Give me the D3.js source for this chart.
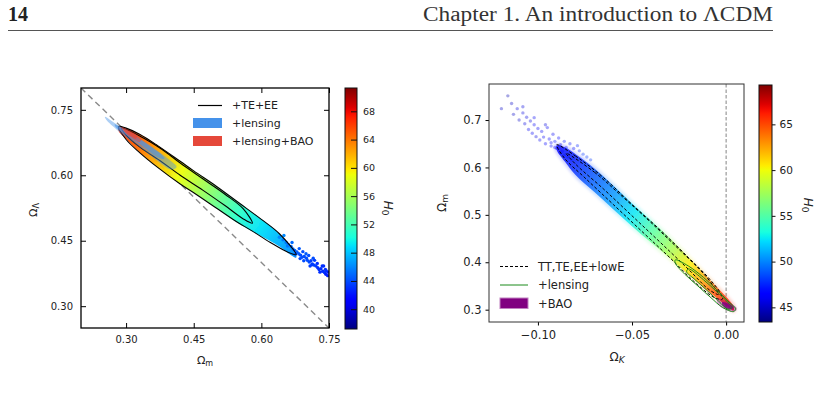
<!DOCTYPE html>
<html>
<head>
<meta charset="utf-8">
<script src="https://cdn.jsdelivr.net/npm/d3@7"></script>
<style>
  body { margin: 0; background: #fff; }
  svg { display: block; font-family: "DejaVu Sans", sans-serif; }
</style>
</head>
<body>
<script>
/* ---------- data ---------- */

// left panel: Omega_m vs Omega_Lambda
const leftTicks = [0.30, 0.45, 0.60, 0.75];
const leftCbTicks = [40, 44, 48, 52, 56, 60, 64, 68];

// colour-coded samples, as slices along Omega_m: upper / lower edge and mean H0
const cloudL_m  = [0.283, 0.30, 0.33, 0.37, 0.42, 0.45, 0.50, 0.55, 0.60, 0.64, 0.677];
const cloudL_up = [0.712, 0.708, 0.694, 0.668, 0.632, 0.610, 0.575, 0.537, 0.499, 0.466, 0.419];
const cloudL_lo = [0.702, 0.683, 0.652, 0.618, 0.580, 0.560, 0.525, 0.489, 0.460, 0.437, 0.411];
const cloudL_h0 = [67, 66, 64.5, 62, 59, 57, 54, 51, 49, 47.5, 46];

// stray samples in the tail
const tailL_m = [0.640, 0.648, 0.655, 0.660, 0.666, 0.670, 0.674, 0.679, 0.683, 0.687, 0.690, 0.686, 0.695, 0.699,
                 0.702, 0.706, 0.710, 0.713, 0.717, 0.721, 0.725, 0.728, 0.732, 0.736, 0.740, 0.743, 0.747, 0.735, 0.744, 0.715,
                 0.650, 0.658, 0.668, 0.676, 0.684, 0.692, 0.700, 0.705, 0.712, 0.718, 0.724, 0.730, 0.738, 0.742, 0.748, 0.694, 0.708];
const tailL_l = [0.458, 0.452, 0.446, 0.441, 0.437, 0.431, 0.428, 0.424, 0.420, 0.417, 0.412, 0.409, 0.414, 0.420,
                 0.405, 0.401, 0.404, 0.397, 0.394, 0.392, 0.388, 0.384, 0.386, 0.380, 0.377, 0.373, 0.370, 0.392, 0.381, 0.410,
                 0.462, 0.438, 0.446, 0.420, 0.432, 0.425, 0.410, 0.416, 0.395, 0.405, 0.398, 0.378, 0.392, 0.384, 0.378, 0.404, 0.392];
const tailL_h0 = [46, 45.5, 45.5, 45, 45, 45, 44.5, 44.5, 44.5, 44, 44, 44, 44, 44.5,
                  44, 44, 43.5, 43.5, 43.5, 43.5, 43, 43, 43, 43, 43, 42.5, 42.5, 43, 43, 44,
                  46, 45.5, 45, 44.5, 44.5, 44, 44, 44, 43.5, 43.5, 43, 43, 43, 43, 42.5, 44, 43.5];

// +TE+EE contours (95% and 68%)
const teOuter = [[0.283, 0.712], [0.30, 0.708], [0.33, 0.694], [0.37, 0.668], [0.42, 0.632], [0.45, 0.610], [0.50, 0.575],
                 [0.55, 0.537], [0.60, 0.499], [0.64, 0.466], [0.677, 0.418], [0.66, 0.423], [0.62, 0.446], [0.58, 0.472],
                 [0.54, 0.497], [0.50, 0.525], [0.45, 0.560], [0.42, 0.580], [0.37, 0.618], [0.33, 0.652], [0.30, 0.682]];
const teInner = [[0.29, 0.708], [0.33, 0.690], [0.38, 0.659], [0.42, 0.628], [0.47, 0.592], [0.52, 0.556], [0.56, 0.523],
                 [0.58, 0.490], [0.56, 0.500], [0.52, 0.530], [0.47, 0.566], [0.42, 0.600], [0.38, 0.630], [0.33, 0.665], [0.30, 0.692]];

// +lensing (blue) and +lensing+BAO (red)
const lensOuter = [[0.253, 0.734], [0.28, 0.716], [0.32, 0.692], [0.36, 0.663], [0.40, 0.632], [0.412, 0.619],
                   [0.40, 0.613], [0.36, 0.641], [0.32, 0.672], [0.28, 0.704], [0.256, 0.727]];
const lensInner = [[0.275, 0.717], [0.30, 0.702], [0.34, 0.676], [0.38, 0.646], [0.385, 0.638],
                   [0.37, 0.641], [0.33, 0.672], [0.29, 0.700], [0.276, 0.712]];
const baoOuter = [[0.290, 0.709], [0.305, 0.704], [0.320, 0.695], [0.334, 0.683], [0.330, 0.676], [0.314, 0.685], [0.298, 0.697]];
const baoInner = [[0.296, 0.705], [0.310, 0.699], [0.324, 0.690], [0.322, 0.684], [0.308, 0.692], [0.298, 0.700]];

const leftLegend = ["+TE+EE", "+lensing", "+lensing+BAO"];

// right panel: Omega_K vs Omega_m
const rightXTicks = [-0.10, -0.05, 0.00];
const rightYTicks = [0.3, 0.4, 0.5, 0.6, 0.7];
const rightCbTicks = [45, 50, 55, 60, 65];

const cloudR_k  = [-0.090, -0.085, -0.080, -0.070, -0.060, -0.050, -0.040, -0.030, -0.020, -0.012, -0.006, 0.000, 0.004];
const cloudR_up = [0.647, 0.641, 0.628, 0.598, 0.562, 0.524, 0.488, 0.451, 0.410, 0.377, 0.352, 0.327, 0.306];
const cloudR_lo = [0.637, 0.609, 0.584, 0.548, 0.512, 0.476, 0.442, 0.409, 0.374, 0.347, 0.328, 0.309, 0.298];
const cloudR_h0 = [46.5, 47, 47.5, 49, 50.5, 52.5, 55, 57.5, 60.5, 62.5, 64.5, 66, 67];

const sparseR_k = [-0.1194, -0.116, -0.114, -0.113, -0.111, -0.110, -0.108, -0.107, -0.106, -0.105, -0.104, -0.103,
                   -0.102, -0.101, -0.100, -0.099, -0.098, -0.097, -0.096, -0.095, -0.094, -0.093, -0.092, -0.091,
                   -0.090, -0.089, -0.088, -0.087, -0.086, -0.085, -0.083, -0.081, -0.079, -0.108, -0.102, -0.096,
                   -0.088, -0.086, -0.084, -0.082, -0.078, -0.076, -0.074, -0.072, -0.091, -0.093];
const sparseR_m = [0.724, 0.751, 0.735, 0.712, 0.724, 0.700, 0.715, 0.692, 0.706, 0.680, 0.698, 0.672,
                   0.690, 0.665, 0.682, 0.658, 0.676, 0.664, 0.650, 0.684, 0.660, 0.645, 0.670, 0.655,
                   0.640, 0.662, 0.648, 0.634, 0.655, 0.642, 0.650, 0.640, 0.646, 0.728, 0.705, 0.690,
                   0.630, 0.626, 0.622, 0.616, 0.635, 0.628, 0.622, 0.616, 0.642, 0.652];
const sparseR_h0 = [45, 44.5, 45, 45, 45.5, 45, 45.5, 45.5, 45.5, 46, 45.5, 46,
                    46, 45.5, 46, 46, 46, 46, 46.5, 46, 46.5, 46.5, 46, 47,
                    46.5, 46.5, 46, 47, 47, 47, 47, 47, 47.5, 45.5, 46, 45.5,
                    47, 47, 47, 47.5, 47.5, 48, 48, 48, 46.5, 46.5];

// TT,TE,EE+lowE dashed contours
const ttOuter = [[-0.090, 0.648], [-0.080, 0.624], [-0.065, 0.578], [-0.050, 0.522], [-0.035, 0.468], [-0.020, 0.410],
                 [-0.010, 0.370], [-0.003, 0.335], [-0.002, 0.322], [-0.006, 0.325], [-0.015, 0.352], [-0.030, 0.410],
                 [-0.045, 0.466], [-0.060, 0.522], [-0.075, 0.578], [-0.086, 0.620]];
const ttInner = [[-0.085, 0.630], [-0.070, 0.590], [-0.055, 0.538], [-0.040, 0.484], [-0.025, 0.427], [-0.012, 0.376],
                 [-0.005, 0.340], [-0.004, 0.332], [-0.009, 0.342], [-0.020, 0.385], [-0.035, 0.442], [-0.050, 0.498],
                 [-0.065, 0.554], [-0.080, 0.607]];
// +lensing (green)
const lensROuter = [[-0.027, 0.405], [-0.020, 0.392], [-0.012, 0.368], [-0.005, 0.342], [0.001, 0.318], [0.005, 0.302],
                    [0.004, 0.296], [-0.002, 0.305], [-0.008, 0.325], [-0.015, 0.350], [-0.022, 0.375], [-0.027, 0.398]];
const lensRInner = [[-0.020, 0.386], [-0.012, 0.363], [-0.005, 0.338], [0.001, 0.315], [0.003, 0.304],
                    [0.001, 0.301], [-0.004, 0.318], [-0.010, 0.340], [-0.017, 0.365], [-0.021, 0.380]];
// +BAO (purple)
const baoROuter = [[-0.0045, 0.323], [-0.001, 0.320], [0.003, 0.312], [0.0058, 0.302], [0.0045, 0.296],
                   [0.001, 0.298], [-0.003, 0.306], [-0.005, 0.317]];
const baoRInner = [[-0.002, 0.316], [0.001, 0.313], [0.004, 0.305], [0.003, 0.301], [0.000, 0.303], [-0.002, 0.310]];

const rightLegend = ["TT,TE,EE+lowE", "+lensing", "+BAO"];

/* ---------- jet colour map ---------- */
const jetR = d3.scaleLinear([0, 0.35, 0.66, 0.89, 1], [0, 0, 1, 1, 0.5]).clamp(true);
const jetG = d3.scaleLinear([0, 0.125, 0.375, 0.64, 0.91, 1], [0, 0, 1, 1, 0, 0]).clamp(true);
const jetB = d3.scaleLinear([0, 0.11, 0.34, 0.65, 1], [0.5, 1, 1, 0, 0]).clamp(true);
const jet = t => d3.rgb(jetR(t) * 255, jetG(t) * 255, jetB(t) * 255).formatHex();

/* ---------- svg ---------- */
const svg = d3.select("body").append("svg").attr("width", 821).attr("height", 412);
const defs = svg.append("defs");

defs.append("filter").attr("id", "soft").append("feGaussianBlur").attr("stdDeviation", 0.6);
defs.append("filter").attr("id", "halo").append("feGaussianBlur").attr("stdDeviation", 1.5);

// page header
svg.append("text").attr("x", 8).attr("y", 21)
  .style("font-family", "'Liberation Serif', serif").style("font-weight", "bold").style("font-size", "20px")
  .style("fill", "#222").text("14");
svg.append("text").attr("x", 773).attr("y", 21).attr("text-anchor", "end")
  .attr("textLength", 350).attr("lengthAdjust", "spacingAndGlyphs")
  .style("font-family", "'Liberation Serif', serif").style("font-size", "20px")
  .style("fill", "#333").text("Chapter 1. An introduction to ΛCDM");
svg.append("line").attr("x1", 8).attr("x2", 773).attr("y1", 30.5).attr("y2", 30.5)
  .attr("stroke", "#555").attr("stroke-width", 1.2);
// caption text that starts just below the bottom edge
svg.append("text").attr("x", 615).attr("y", 428).attr("text-anchor", "middle")
  .style("font-family", "'Liberation Serif', serif").style("font-size", "20px").text("[?]");

const closed = d3.line().curve(d3.curveCatmullRomClosed.alpha(0.5));

function bandGradient(id, pts, h0, norm) {
  const p0 = pts[0], p1 = pts[pts.length - 1];
  const dx = p1[0] - p0[0], dy = p1[1] - p0[1], L2 = dx * dx + dy * dy;
  const grad = defs.append("linearGradient").attr("id", id).attr("gradientUnits", "userSpaceOnUse")
    .attr("x1", p0[0]).attr("y1", p0[1]).attr("x2", p1[0]).attr("y2", p1[1]);
  pts.forEach((p, i) => {
    const off = ((p[0] - p0[0]) * dx + (p[1] - p0[1]) * dy) / L2;
    grad.append("stop").attr("offset", Math.max(0, Math.min(1, off))).attr("stop-color", jet(norm(h0[i])));
  });
}

function colorbar(id, x0, w, cScale, ticks, inside) {
  const grad = defs.append("linearGradient").attr("id", id).attr("x1", 0).attr("y1", 1).attr("x2", 0).attr("y2", 0);
  d3.range(0, 1.0001, 0.02).forEach(t => grad.append("stop").attr("offset", t).attr("stop-color", jet(t)));
  const [yb, yt] = cScale.range();
  svg.append("rect").attr("x", x0).attr("y", yt).attr("width", w).attr("height", yb - yt)
    .attr("fill", `url(#${id})`).attr("stroke", "#111").attr("stroke-width", 1);
  const ax = svg.append("g").attr("transform", `translate(${x0 + w},0)`)
    .call(d3.axisRight(cScale).tickValues(ticks).tickFormat(d3.format("d"))
      .tickSizeInner(inside ? -6 : 3.5).tickSizeOuter(0).tickPadding(inside ? 6 : 4));
  ax.select(".domain").remove();
  ax.selectAll("line").attr("stroke", "#111");
  ax.selectAll("text").style("font-family", "'DejaVu Sans', sans-serif").style("font-size", inside ? "9.5px" : "10.5px").style("fill", "#222");
  return ax;
}

function styleAx(ax, fs) {
  ax.select(".domain").remove();
  ax.selectAll("line").attr("stroke", "#000");
  ax.selectAll("text").style("font-family", "'DejaVu Sans', sans-serif").style("font-size", fs).style("fill", "#222");
}

/* ================= left panel ================= */
const xL = d3.scaleLinear([0.2, 0.75], [81, 329]);
const yL = d3.scaleLinear([0.25, 0.80], [328, 88]);
const cL = d3.scaleLinear([37.2, 71.3], [329, 88]);
const normL = d3.scaleLinear([37.2, 71.3], [0, 1]);

defs.append("clipPath").attr("id", "clipL").append("rect").attr("x", 81).attr("y", 88).attr("width", 248).attr("height", 240);
const gL = svg.append("g").attr("clip-path", "url(#clipL)");

// flat universe line
gL.append("line").attr("x1", xL(0.2)).attr("y1", yL(0.8)).attr("x2", xL(0.75)).attr("y2", yL(0.25))
  .attr("stroke", "#8a8a8a").attr("stroke-width", 1.4).attr("stroke-dasharray", "6,4");

const cenL = cloudL_m.map((m, i) => [xL(m), yL((cloudL_up[i] + cloudL_lo[i]) / 2)]);
bandGradient("gradL", cenL, cloudL_h0, normL);
const bandL = cloudL_m.map((m, i) => [xL(m), yL(cloudL_up[i])])
  .concat(cloudL_m.map((m, i) => [xL(m), yL(cloudL_lo[i])]).reverse());
gL.append("path").attr("d", closed(bandL)).attr("fill", "url(#gradL)").attr("opacity", 0.95).attr("filter", "url(#soft)");

gL.selectAll(".tail").data(tailL_m).join("circle").attr("class", "tail")
  .attr("cx", d => xL(d)).attr("cy", (d, i) => yL(tailL_l[i])).attr("r", 1.7)
  .attr("fill", (d, i) => jet(normL(tailL_h0[i])));

[teOuter, teInner].forEach(c => gL.append("path").attr("d", closed(c.map(p => [xL(p[0]), yL(p[1])])))
  .attr("fill", "none").attr("stroke", "#000").attr("stroke-width", 1.1));

gL.append("path").attr("d", closed(lensOuter.map(p => [xL(p[0]), yL(p[1])]))).attr("fill", "#4a94e8").attr("opacity", 0.45);
gL.append("path").attr("d", closed(lensInner.map(p => [xL(p[0]), yL(p[1])]))).attr("fill", "#4a94e8").attr("opacity", 0.6);
gL.append("path").attr("d", closed(baoOuter.map(p => [xL(p[0]), yL(p[1])]))).attr("fill", "#e5483a").attr("opacity", 0.55);
gL.append("path").attr("d", closed(baoInner.map(p => [xL(p[0]), yL(p[1])]))).attr("fill", "#e5483a").attr("opacity", 0.75);

// axes, ticks inside on all four sides
styleAx(svg.append("g").attr("transform", "translate(81,0)")
  .call(d3.axisLeft(yL).tickValues(leftTicks).tickFormat(d3.format(".2f")).tickSizeInner(-5).tickSizeOuter(0).tickPadding(8)), "10px");
styleAx(svg.append("g").attr("transform", "translate(0,328)")
  .call(d3.axisBottom(xL).tickValues(leftTicks).tickFormat(d3.format(".2f")).tickSizeInner(-5).tickSizeOuter(0).tickPadding(8)), "10px");
styleAx(svg.append("g").attr("transform", "translate(329,0)")
  .call(d3.axisRight(yL).tickValues(leftTicks).tickFormat("").tickSizeInner(-5).tickSizeOuter(0)), "10px");
styleAx(svg.append("g").attr("transform", "translate(0,88)")
  .call(d3.axisTop(xL).tickValues(leftTicks).tickFormat("").tickSizeInner(-5).tickSizeOuter(0)), "10px");
svg.append("rect").attr("x", 81).attr("y", 88).attr("width", 248).attr("height", 240)
  .attr("fill", "none").attr("stroke", "#000").attr("stroke-width", 1.3);

// axis labels
const labL = svg.append("text").attr("x", 205).attr("y", 364).attr("text-anchor", "middle").style("font-size", "11px").style("fill", "#222");
labL.append("tspan").text("Ω");
labL.append("tspan").attr("baseline-shift", "-25%").style("font-size", "8px").text("m");
const labLy = svg.append("text").attr("transform", "translate(37,210) rotate(-90)").attr("text-anchor", "middle").style("font-size", "11px").style("fill", "#222");
labLy.append("tspan").text("Ω");
labLy.append("tspan").attr("baseline-shift", "-25%").style("font-size", "8px").text("Λ");

// legend
const legL = svg.append("g").style("font-size", "11px").style("fill", "#222");
legL.append("line").attr("x1", 198).attr("x2", 222).attr("y1", 105.5).attr("y2", 105.5).attr("stroke", "#000").attr("stroke-width", 1.2);
legL.append("rect").attr("x", 193).attr("y", 118).attr("width", 29).attr("height", 10).attr("fill", "#4592ea");
legL.append("rect").attr("x", 193).attr("y", 136).attr("width", 29).attr("height", 10).attr("fill", "#e5483a");
legL.selectAll("text").data(leftLegend).join("text")
  .attr("x", 232).attr("y", (d, i) => [105.5, 123, 141][i]).attr("dy", "0.35em").text(d => d);

colorbar("cbL", 345, 12, cL, leftCbTicks, true);
const hL = svg.append("text").attr("transform", "translate(384,208) rotate(90)").attr("text-anchor", "middle")
  .style("font-size", "12px").style("fill", "#222");
hL.append("tspan").style("font-style", "italic").text("H");
hL.append("tspan").attr("baseline-shift", "-25%").style("font-size", "9px").text("0");

/* ================= right panel ================= */
const xR = d3.scaleLinear([-0.126, 0.0095], [489, 744]);
const yR = d3.scaleLinear([0.274, 0.776], [322, 84]);
const cR = d3.scaleLinear([43.4, 69.3], [322, 85]);
const normR = d3.scaleLinear([43.4, 69.3], [0, 1]);

defs.append("clipPath").attr("id", "clipR").append("rect").attr("x", 489).attr("y", 84).attr("width", 255).attr("height", 238);
const gR = svg.append("g").attr("clip-path", "url(#clipR)");

gR.append("line").attr("x1", xR(0)).attr("x2", xR(0)).attr("y1", 84).attr("y2", 322)
  .attr("stroke", "#777").attr("stroke-width", 0.9).attr("stroke-dasharray", "3.5,2");

gR.selectAll(".sp").data(sparseR_k).join("circle").attr("class", "sp")
  .attr("cx", d => xR(d)).attr("cy", (d, i) => yR(sparseR_m[i])).attr("r", 1.7)
  .attr("fill", (d, i) => jet(normR(sparseR_h0[i]))).attr("opacity", 0.35);

const cenR = cloudR_k.map((k, i) => [xR(k), yR((cloudR_up[i] + cloudR_lo[i]) / 2)]);
bandGradient("gradR", cenR, cloudR_h0, normR);
const bandR = cloudR_k.map((k, i) => [xR(k), yR(cloudR_up[i])])
  .concat(cloudR_k.map((k, i) => [xR(k), yR(cloudR_lo[i])]).reverse());
gR.append("path").attr("d", closed(bandR)).attr("fill", "url(#gradR)").attr("stroke", "url(#gradR)")
  .attr("stroke-width", 4).attr("opacity", 0.2).attr("filter", "url(#halo)");
gR.append("path").attr("d", closed(bandR)).attr("fill", "url(#gradR)").attr("opacity", 0.78).attr("filter", "url(#soft)");

[ttOuter, ttInner].forEach(c => gR.append("path").attr("d", closed(c.map(p => [xR(p[0]), yR(p[1])])))
  .attr("fill", "none").attr("stroke", "#000").attr("stroke-width", 1).attr("stroke-dasharray", "3,2"));
gR.append("path").attr("d", closed(baoROuter.map(p => [xR(p[0]), yR(p[1])]))).attr("fill", "#800080").attr("opacity", 0.35);
gR.append("path").attr("d", closed(baoRInner.map(p => [xR(p[0]), yR(p[1])]))).attr("fill", "#800080").attr("opacity", 0.85);
[lensROuter, lensRInner].forEach(c => gR.append("path").attr("d", closed(c.map(p => [xR(p[0]), yR(p[1])])))
  .attr("fill", "none").attr("stroke", "#1a8a1a").attr("stroke-width", 1));

const fmtR = d => d3.format(".2f")(d).replace("-", "\u2212");
styleAx(svg.append("g").attr("transform", "translate(0,322)")
  .call(d3.axisBottom(xR).tickValues(rightXTicks).tickFormat(fmtR).tickSizeInner(3.5).tickSizeOuter(0).tickPadding(5)), "11.5px");
styleAx(svg.append("g").attr("transform", "translate(489,0)")
  .call(d3.axisLeft(yR).tickValues(rightYTicks).tickFormat(d3.format(".1f")).tickSizeInner(3.5).tickSizeOuter(0).tickPadding(4)), "11.5px");
svg.append("rect").attr("x", 489).attr("y", 84).attr("width", 255).attr("height", 238)
  .attr("fill", "none").attr("stroke", "#333").attr("stroke-width", 1);

const labR = svg.append("text").attr("x", 617).attr("y", 361).attr("text-anchor", "middle").style("font-size", "12px").style("fill", "#222");
labR.append("tspan").text("Ω");
labR.append("tspan").attr("baseline-shift", "-25%").style("font-size", "9px").style("font-style", "italic").text("K");
const labRy = svg.append("text").attr("transform", "translate(446,203) rotate(-90)").attr("text-anchor", "middle").style("font-size", "12px").style("fill", "#222");
labRy.append("tspan").text("Ω");
labRy.append("tspan").attr("baseline-shift", "-25%").style("font-size", "9px").text("m");

const legR = svg.append("g").style("font-size", "11.5px").style("fill", "#222");
legR.append("line").attr("x1", 500).attr("x2", 528).attr("y1", 266.5).attr("y2", 266.5)
  .attr("stroke", "#000").attr("stroke-width", 1).attr("stroke-dasharray", "3,2");
legR.append("line").attr("x1", 500).attr("x2", 528).attr("y1", 285).attr("y2", 285)
  .attr("stroke", "#1a8a1a").attr("stroke-width", 1);
legR.append("rect").attr("x", 500).attr("y", 298).attr("width", 28).attr("height", 10.5)
  .attr("fill", "#800080").attr("stroke", "#c080c0").attr("stroke-width", 1);
legR.selectAll("text").data(rightLegend).join("text")
  .attr("x", 538).attr("y", (d, i) => [266.5, 285, 303.5][i]).attr("dy", "0.35em").text(d => d);

colorbar("cbR", 759, 13, cR, rightCbTicks, false);
const hR = svg.append("text").attr("transform", "translate(804,205) rotate(90)").attr("text-anchor", "middle")
  .style("font-size", "12px").style("fill", "#222");
hR.append("tspan").style("font-style", "italic").text("H");
hR.append("tspan").attr("baseline-shift", "-25%").style("font-size", "9px").text("0");
</script>
</body>
</html>
